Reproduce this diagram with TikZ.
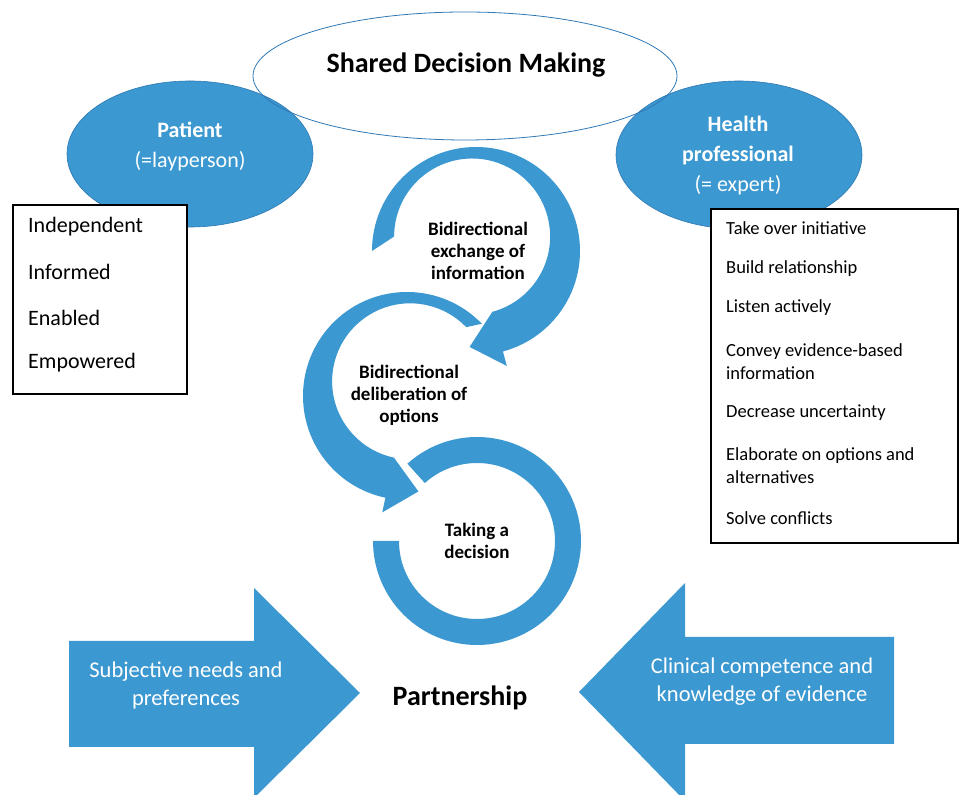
\documentclass[tikz,border=0pt]{standalone}
\usepackage{fontspec}
\setmainfont{Carlito}
\usetikzlibrary{shapes.geometric,calc}
\definecolor{sdmblue}{RGB}{59,152,208}
\definecolor{sdmedge}{RGB}{47,120,180}
\tikzset{
  bluefill/.style={fill=sdmblue,draw=none},
  blueell/.style={ellipse,fill=sdmblue,draw=sdmedge,line width=0.6pt,inner sep=0pt},
  listbox/.style={draw=black,fill=white,line width=1.1pt},
  ringtxt/.style={font=\fontsize{19}{22}\selectfont\bfseries,align=center,text=black},
  elltxt/.style={font=\fontsize{22}{30}\selectfont,align=center,text=white},
  lefttxt/.style={font=\fontsize{22}{24}\selectfont,anchor=west,inner sep=0pt},
  righttxt/.style={font=\fontsize{18.5}{23}\selectfont,anchor=west,align=left,inner sep=0pt},
  arrtxt/.style={font=\fontsize{22.5}{28}\selectfont,align=center,text=white},
}
\begin{document}
\begin{tikzpicture}[x=1pt,y=1pt]
\clip (0,0) rectangle (959,795);
\fill[white] (0,0) rectangle (959,795);

% blue ellipses
\node[blueell,minimum width=246pt,minimum height=146pt] (pat) at (190,641) {};
\node[blueell,minimum width=246pt,minimum height=148pt] (hp) at (739,640) {};
% title ellipse
\node[ellipse,draw=sdmedge,line width=0.8pt,minimum width=424pt,minimum height=128pt,inner sep=0pt] (sdm) at (465,719) {};
\node[font=\fontsize{28}{30}\selectfont\bfseries] (sdmt) at (466,730) {Shared Decision Making};

\node[elltxt] (patt) at (190,648) {\textbf{Patient}\\(=layperson)};
\node[elltxt] (hpt) at (738,639) {\textbf{Health}\\\textbf{professional}\\(= expert)};

% left list box
\draw[listbox] (13,401) rectangle (187,590);
\node[lefttxt] (l1) at (28,568) {Independent};
\node[lefttxt] (l2) at (28,523) {Informed};
\node[lefttxt] (l3) at (28,477) {Enabled};
\node[lefttxt] (l4) at (28,432) {Empowered};

% right list box
\draw[listbox] (711,252) rectangle (958,586);
\node[righttxt] (r1) at (726,567) {Take over initiative};
\node[righttxt] (r2) at (726,526) {Build relationship};
\node[righttxt] (r3) at (726,487) {Listen actively};
\node[righttxt] (r4) at (726,433.5) {Convey evidence-based\\information};
\node[righttxt] (r5) at (726,382) {Decrease uncertainty};
\node[righttxt] (r6) at (726,329) {Elaborate on options and\\alternatives};
\node[righttxt] (r7) at (726,277) {Solve conflicts};

% circular arrows
\coordinate (c1) at (476,544);
\coordinate (c2) at (407,399);
\coordinate (c3) at (477,254);
\fill[sdmblue] ($(c1)+(180:104)$) arc[start angle=180,end angle=-75,radius=104]
  -- ($(c1)+(-75:119)$) -- ($(c1)+(-75:91)+(-165:31)$) -- ($(c1)+(-75:63)$)
  arc[start angle=-75,end angle=180,radius=78] -- cycle;
\fill[sdmblue] ($(c2)+(44:104)$) arc[start angle=44,end angle=258,radius=104]
  -- ($(c2)+(258:119)$) -- ($(c2)+(258:91)+(348:31)$) -- ($(c2)+(258:63)$)
  arc[start angle=258,end angle=44,radius=78] -- cycle;
\fill[sdmblue] ($(c3)+(132:104)$) arc[start angle=132,end angle=-180,radius=104]
  -- ($(c3)+(-180:78)$) arc[start angle=-180,end angle=132,radius=78] -- cycle;

\node[ringtxt] (t1) at (478,544) {Bidirectional\\exchange of\\information};
\node[ringtxt] (t2) at (409,400) {Bidirectional\\deliberation of\\options};
\node[ringtxt] (t3) at (477,254) {Taking a\\decision};

% big arrows
\fill[sdmblue] (69,154) -- (254,154) -- (254,207) -- (360,102) -- (254,-3) -- (254,48) -- (69,48) -- cycle;
\fill[sdmblue] (894,158) -- (685,158) -- (685,212) -- (579,103) -- (685,-6) -- (685,51) -- (894,51) -- cycle;
\node[arrtxt] (la) at (186,109) {Subjective needs and\\preferences};
\node[arrtxt] (ra) at (762,113) {Clinical competence and\\knowledge of evidence};
\node[font=\fontsize{28}{30}\selectfont\bfseries] (ps) at (460,97) {Partnership};
\end{tikzpicture}
\end{document}
